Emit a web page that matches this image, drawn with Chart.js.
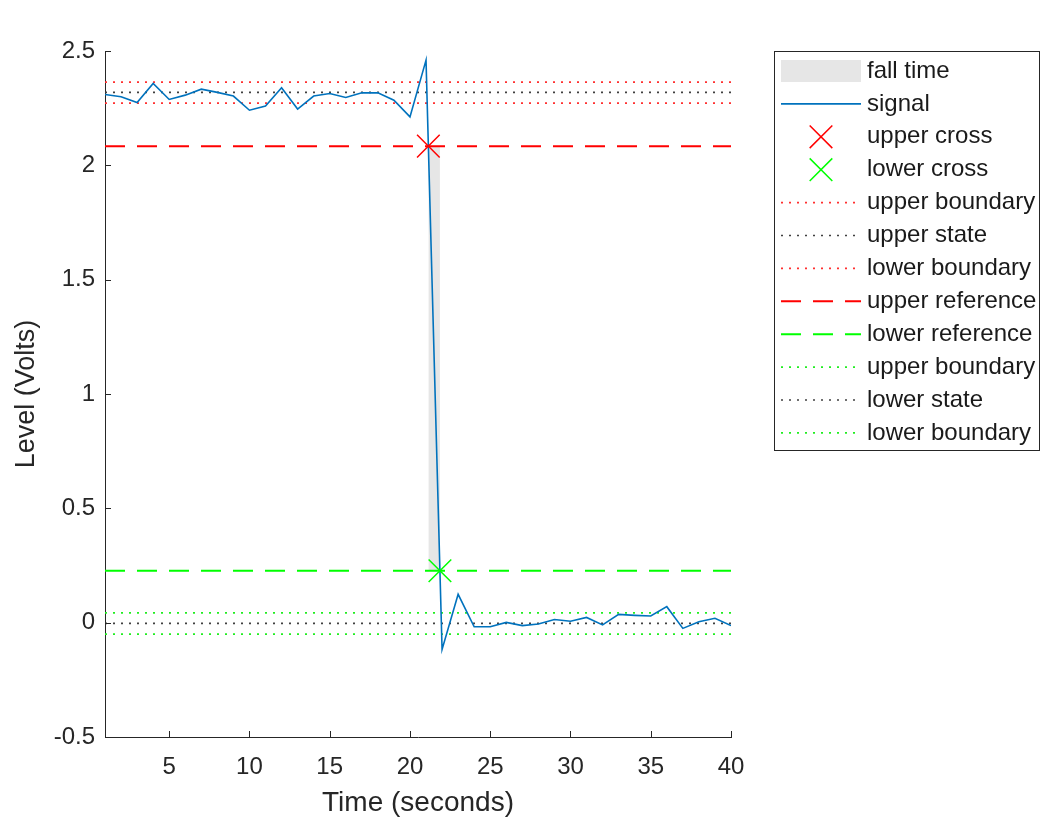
<!DOCTYPE html>
<html>
<head>
<meta charset="utf-8">
<title>Fall time</title>
<script src="https://cdn.jsdelivr.net/npm/chart.js@4.4.1/dist/chart.umd.min.js"></script>
<style>
  html, body { margin: 0; padding: 0; background: #fff; }
  #wrap { position: relative; width: 1043px; height: 818px; }
</style>
</head>
<body>
<div id="wrap"><canvas id="fallChart"></canvas></div>
<script>
// signal samples
const timeSec = [1, 2, 3, 4, 5, 6, 7, 8, 9, 10, 11, 12, 13, 14, 15, 16, 17, 18, 19, 20,
                 21, 22, 23, 24, 25, 26, 27, 28, 29, 30, 31, 32, 33, 34, 35, 36, 37, 38, 39, 40];
const signalVolts = [2.310, 2.300, 2.275, 2.358, 2.288, 2.307, 2.333, 2.319, 2.303, 2.241,
                     2.259, 2.339, 2.246, 2.303, 2.314, 2.297, 2.317, 2.317, 2.285, 2.212,
                     2.460, -0.117, 0.124, -0.018, -0.018, 0.001, -0.013, -0.006, 0.014, 0.006,
                     0.023, -0.010, 0.036, 0.032, 0.029, 0.070, -0.025, 0.004, 0.019, -0.013];

// state / reference levels
const upperBoundHi = 2.364;
const upperState = 2.319;
const upperBoundLo = 2.272;
const upperRef = 2.084;
const lowerRef = 0.227;
const lowerBoundHi = 0.043;
const lowerState = -0.003;
const lowerBoundLo = -0.050;

// crossings
const upperCross = [{ x: 21.146, y: 2.084 }];
const lowerCross = [{ x: 21.867, y: 0.227 }];

const xTicks = [5, 10, 15, 20, 25, 30, 35, 40];
const yTicks = [-0.5, 0, 0.5, 1, 1.5, 2, 2.5];
const legendLabels = ['fall time', 'signal', 'upper cross', 'lower cross', 'upper boundary',
                      'upper state', 'lower boundary', 'upper reference', 'lower reference',
                      'upper boundary', 'lower state', 'lower boundary'];

const FONT = '"Liberation Sans", Arial, sans-serif';
const AXIS = '#262626';
const xMin = 1, xMax = 40;

function hLine(level) {
    return [{ x: xMin, y: level }, { x: xMax, y: level }];
}

function refLine(label, level, color, dash, width) {
    return {
        label: label,
        data: hLine(level),
        borderColor: color,
        borderWidth: width,
        borderDash: dash,
        pointRadius: 0,
        fill: false,
        order: 2,
        kind: 'line'
    };
}

const DOT = [2, 6];
const DASH = [20, 12];

const datasets = [
    {
        label: legendLabels[0],
        data: [{ x: upperCross[0].x, y: upperRef }, { x: lowerCross[0].x, y: upperRef }],
        borderWidth: 0,
        borderColor: 'rgba(0,0,0,0)',
        backgroundColor: '#e6e6e6',
        pointRadius: 0,
        fill: { value: lowerRef },
        order: 3,
        kind: 'patch'
    },
    {
        label: legendLabels[1],
        data: timeSec.map((t, i) => ({ x: t, y: signalVolts[i] })),
        borderColor: '#0072bd',
        borderWidth: 1.6,
        pointRadius: 0,
        fill: false,
        tension: 0,
        order: 1,
        kind: 'line'
    },
    {
        label: legendLabels[2],
        data: upperCross,
        showLine: false,
        pointStyle: 'crossRot',
        pointRadius: 16,
        pointBorderColor: '#ff0000',
        pointBorderWidth: 1.5,
        order: 0,
        kind: 'marker'
    },
    {
        label: legendLabels[3],
        data: lowerCross,
        showLine: false,
        pointStyle: 'crossRot',
        pointRadius: 16,
        pointBorderColor: '#00ff00',
        pointBorderWidth: 1.5,
        order: 0,
        kind: 'marker'
    },
    refLine(legendLabels[4], upperBoundHi, '#ff3030', DOT, 1.6),
    refLine(legendLabels[5], upperState, '#404040', DOT, 1.6),
    refLine(legendLabels[6], upperBoundLo, '#ff3030', DOT, 1.6),
    refLine(legendLabels[7], upperRef, '#ff0000', DASH, 2),
    refLine(legendLabels[8], lowerRef, '#00ff00', DASH, 2),
    refLine(legendLabels[9], lowerBoundHi, '#20ee20', DOT, 1.6),
    refLine(legendLabels[10], lowerState, '#404040', DOT, 1.6),
    refLine(legendLabels[11], lowerBoundLo, '#20ee20', DOT, 1.6)
];

// MATLAB style ticks, pointing into the axes
const innerTicks = {
    id: 'innerTicks',
    afterDatasetsDraw(chart) {
        const { ctx, chartArea, scales } = chart;
        const len = 6;
        ctx.save();
        ctx.strokeStyle = AXIS;
        ctx.lineWidth = 1;
        ctx.beginPath();
        xTicks.forEach(v => {
            const px = Math.round(scales.x.getPixelForValue(v)) + 0.5;
            ctx.moveTo(px, chartArea.bottom);
            ctx.lineTo(px, chartArea.bottom - len);
        });
        yTicks.forEach(v => {
            const py = Math.round(scales.y.getPixelForValue(v)) + 0.5;
            ctx.moveTo(chartArea.left, py);
            ctx.lineTo(chartArea.left + len, py);
        });
        ctx.stroke();
        ctx.restore();
    }
};

// legend box drawn on the right, like the MATLAB one
const boxLegend = {
    id: 'boxLegend',
    afterDraw(chart) {
        const ctx = chart.ctx;
        const box = { left: 774, top: 51, right: 1039, bottom: 450 };
        const rowTop = 71, rowStep = 32.9;
        const sx0 = 781, sx1 = 861, tx = 867;
        ctx.save();
        ctx.fillStyle = '#fff';
        ctx.fillRect(box.left, box.top, box.right - box.left, box.bottom - box.top);
        ctx.strokeStyle = AXIS;
        ctx.lineWidth = 1;
        ctx.setLineDash([]);
        ctx.strokeRect(box.left + 0.5, box.top + 0.5, box.right - box.left, box.bottom - box.top);

        chart.data.datasets.forEach((ds, i) => {
            const cy = rowTop + i * rowStep;
            ctx.save();
            if (ds.kind === 'patch') {
                ctx.fillStyle = ds.backgroundColor;
                ctx.fillRect(sx0, cy - 11, sx1 - sx0, 22);
            } else if (ds.kind === 'line') {
                ctx.strokeStyle = ds.borderColor;
                ctx.lineWidth = ds.borderWidth;
                ctx.setLineDash(ds.borderDash || []);
                ctx.beginPath();
                ctx.moveTo(sx0, cy);
                ctx.lineTo(sx1, cy);
                ctx.stroke();
            } else {
                const cx = (sx0 + sx1) / 2;
                const h = ds.pointRadius * Math.SQRT1_2;
                ctx.strokeStyle = ds.pointBorderColor;
                ctx.lineWidth = ds.pointBorderWidth;
                ctx.beginPath();
                ctx.moveTo(cx - h, cy - h);
                ctx.lineTo(cx + h, cy + h);
                ctx.moveTo(cx - h, cy + h);
                ctx.lineTo(cx + h, cy - h);
                ctx.stroke();
            }
            ctx.restore();
            ctx.fillStyle = '#1a1a1a';
            ctx.font = '24px ' + FONT;
            ctx.textAlign = 'left';
            ctx.textBaseline = 'middle';
            ctx.fillText(ds.label, tx, cy);
        });
        ctx.restore();
    }
};

new Chart(document.getElementById('fallChart'), {
    type: 'line',
    data: { datasets: datasets },
    options: {
        responsive: true,
        maintainAspectRatio: false,
        animation: false,
        events: [],
        layout: {
            padding: { left: 0, right: 312, top: 51, bottom: 0 }
        },
        plugins: {
            legend: { display: false },
            tooltip: { enabled: false }
        },
        scales: {
            x: {
                type: 'linear',
                min: xMin,
                max: xMax,
                afterBuildTicks: s => { s.ticks = xTicks.map(v => ({ value: v })); },
                afterFit: s => { s.height = 81; },
                grid: { display: false, drawTicks: false },
                border: { display: true, color: AXIS, width: 1 },
                ticks: {
                    color: AXIS,
                    padding: 16,
                    maxRotation: 0,
                    autoSkip: false,
                    font: { family: FONT, size: 24 },
                    callback: v => String(v)
                },
                title: {
                    display: true,
                    text: 'Time (seconds)',
                    color: AXIS,
                    padding: { top: 0, bottom: 0 },
                    font: { family: FONT, size: 28, lineHeight: 1.05 }
                }
            },
            y: {
                type: 'linear',
                min: -0.5,
                max: 2.5,
                afterBuildTicks: s => { s.ticks = yTicks.map(v => ({ value: v })); },
                afterFit: s => { s.width = 105; },
                grid: { display: false, drawTicks: false },
                border: { display: true, color: AXIS, width: 1 },
                ticks: {
                    color: AXIS,
                    padding: 10,
                    autoSkip: false,
                    font: { family: FONT, size: 24 },
                    callback: v => String(v)
                },
                title: {
                    display: true,
                    text: 'Level (Volts)',
                    color: AXIS,
                    padding: { top: 12, bottom: 0 },
                    font: { family: FONT, size: 27, lineHeight: 1.1 }
                }
            }
        }
    },
    plugins: [innerTicks, boxLegend]
});
</script>
</body>
</html>
